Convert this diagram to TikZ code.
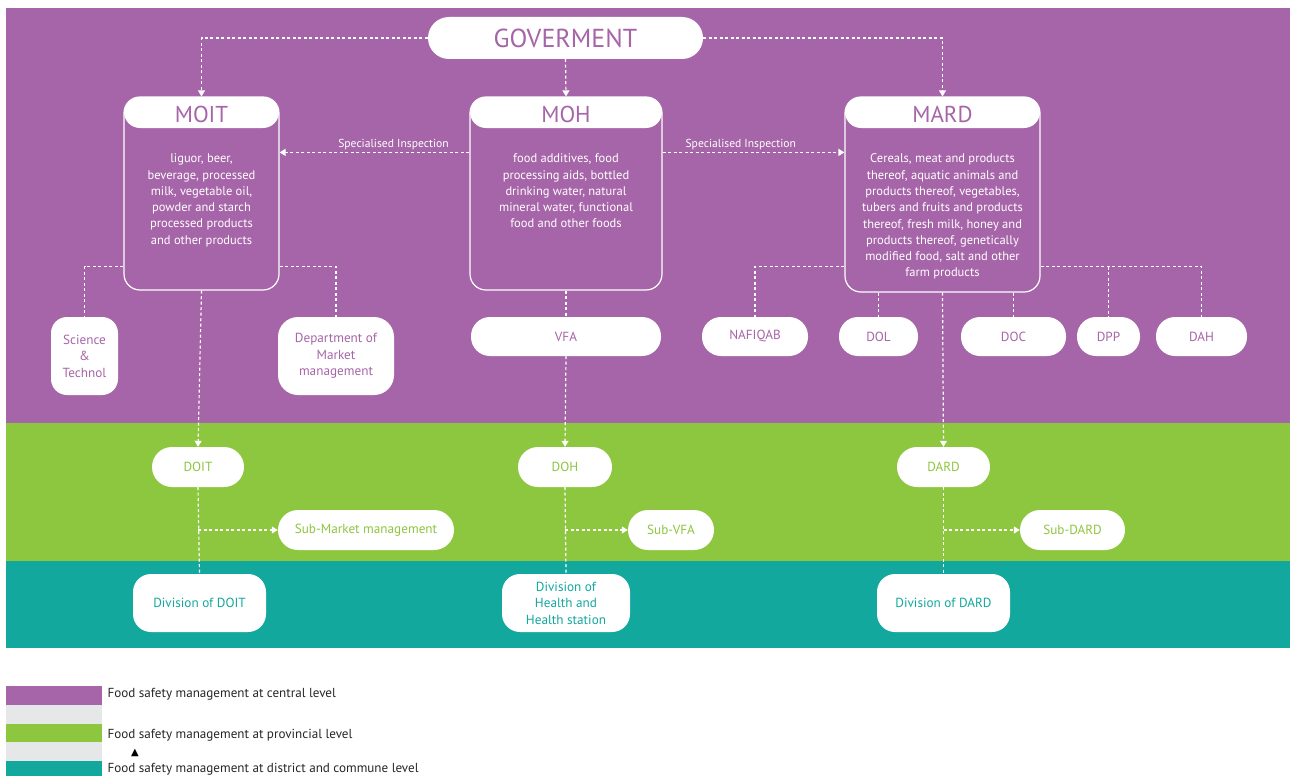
\documentclass[tikz,border=0pt]{standalone}
\usepackage{fontspec}
\setmainfont{PT Sans}
\newfontfamily\symfont{DejaVu Sans}
\usepackage{tikz}
\usetikzlibrary{arrows.meta}

\definecolor{mpurple}{RGB}{166,101,168}
\definecolor{mgreen}{RGB}{141,198,63}
\definecolor{mteal}{RGB}{19,168,158}
\definecolor{lgray}{RGB}{230,231,232}

\tikzset{
  link/.style={draw=white, line width=1.2pt, dash pattern=on 3pt off 2.5pt},
  arr/.style={link, -{Triangle[length=6pt,width=7pt]}},
  pill/.style={fill=white, rounded corners=19pt, minimum height=39pt, inner sep=2pt,
    align=center, font=\fontsize{13.2}{16.5}\selectfont},
  catbox/.style={draw=white, line width=1.2pt, rounded corners=16pt, minimum height=193pt,
    path picture={\fill[white] (path picture bounding box.north west) rectangle
      ([yshift=-31pt]path picture bounding box.north east);}},
  cattitle/.style={text=mpurple, font=\fontsize{23}{23}\selectfont},
  cattext/.style={text=white, anchor=north, align=center, font=\fontsize{12.5}{16.3}\selectfont},
  insp/.style={text=white, font=\fontsize{11.6}{12}\selectfont},
  legend/.style={anchor=west, text=black!85, font=\fontsize{13.1}{13}\selectfont}
}

\begin{document}
\begin{tikzpicture}[x=1pt,y=-1pt]
  \useasboundingbox (0,0) rectangle (1290,776);

  % levels
  \fill[mpurple] (6,8) rectangle (1290,423);
  \fill[mgreen] (6,423) rectangle (1290,561);
  \fill[mteal] (6,561) rectangle (1290,648);

  % central level
  \node[pill, minimum width=275pt, minimum height=42pt, rounded corners=21pt, text=mpurple,
    font=\fontsize{26}{26}\selectfont] (gov) at (565.5,38) {GOVERMENT};

  \node[catbox, minimum width=155pt] (moit) at (201.5,193.5) {};
  \node[catbox, minimum width=192pt] (moh) at (566,193.5) {};
  \node[catbox, minimum width=195pt, minimum height=195pt] (mard) at (942.5,194.5) {};

  \node[cattitle] (moitt) at ([yshift=-18pt]moit.north) {MOIT};
  \node[cattitle] (moht) at ([yshift=-18pt]moh.north) {MOH};
  \node[cattitle] (mardt) at ([yshift=-18pt]mard.north) {MARD};

  \node[cattext] (moitx) at ([yshift=-54pt]moit.north) {liguor, beer,\\beverage, processed\\milk, vegetable oil,\\powder and starch\\processed products\\and other products};
  \node[cattext] (mohx) at ([yshift=-54pt]moh.north) {food additives, food\\processing aids, bottled\\drinking water, natural\\mineral water, functional\\food and other foods};
  \node[cattext] (mardx) at ([yshift=-54pt]mard.north) {Cereals, meat and products\\thereof, aquatic animals and\\products thereof, vegetables,\\tubers and fruits and products\\thereof, fresh milk, honey and\\products thereof, genetically\\modified food, salt and other\\farm products};

  \node[pill, text=mpurple, minimum width=67pt, minimum height=78pt, rounded corners=16pt] (sci) at (84.5,356) {Science\\\&\\Technol};
  \node[pill, text=mpurple, minimum width=116pt, minimum height=78pt, rounded corners=20pt] (dmm) at (336,356) {Department of\\Market\\management};
  \node[pill, text=mpurple, minimum width=190pt] (vfa) at (566,336.5) {VFA};
  \node[pill, text=mpurple, minimum width=106pt] (nafiqab) at (755,336.5) {NAFIQAB};
  \node[pill, text=mpurple, minimum width=79pt] (dol) at (878.5,336.5) {DOL};
  \node[pill, text=mpurple, minimum width=105pt] (doc) at (1013.5,336.5) {DOC};
  \node[pill, text=mpurple, minimum width=63pt] (dpp) at (1108.5,336.5) {DPP};
  \node[pill, text=mpurple, minimum width=91pt] (dah) at (1201.5,336.5) {DAH};

  % provincial level
  \node[pill, text=mgreen, minimum width=92pt, minimum height=40pt, rounded corners=20pt] (doit) at (198,467) {DOIT};
  \node[pill, text=mgreen, minimum width=94pt, minimum height=40pt, rounded corners=20pt] (doh) at (565,467) {DOH};
  \node[pill, text=mgreen, minimum width=93pt, minimum height=40pt, rounded corners=20pt] (dard) at (943.5,467) {DARD};
  \node[pill, text=mgreen, minimum width=176pt, minimum height=40pt, rounded corners=20pt] (submm) at (366,530) {Sub-Market management};
  \node[pill, text=mgreen, minimum width=86pt, minimum height=40pt, rounded corners=20pt] (subvfa) at (671,530) {Sub-VFA};
  \node[pill, text=mgreen, minimum width=105pt, minimum height=40pt, rounded corners=20pt] (subdard) at (1072.5,530) {Sub-DARD};

  % district and commune level
  \node[pill, text=mteal, minimum width=133pt, minimum height=58pt, rounded corners=18pt] (divdoit) at (199.5,603) {Division of DOIT};
  \node[pill, text=mteal, minimum width=128pt, minimum height=58pt, rounded corners=18pt] (divhealth) at (566,603) {Division of\\Health and\\Health station};
  \node[pill, text=mteal, minimum width=133pt, minimum height=58pt, rounded corners=18pt] (divdard) at (943.5,603) {Division of DARD};

  % connectors
  \draw[arr] (gov.west) -| (moit.north);
  \draw[arr] (gov.south) -- (moh.north);
  \draw[arr] (gov.east) -| (mard.north);

  \draw[arr] ([yshift=-56pt]moh.north west) -- ([yshift=-56pt]moit.north east)
    node[insp, pos=0.4, above, yshift=-1pt] {Specialised Inspection};
  \draw[arr] ([yshift=-56pt]moh.north east) -- ([yshift=-56pt]mard.north west)
    node[insp, pos=0.43, above, yshift=-1pt] {Specialised Inspection};

  \draw[link] ([yshift=24pt]moit.south west) -| (sci.north);
  \draw[link] ([yshift=24pt]moit.south east) -| (dmm.north);
  \draw[link] (moh.south) -- (vfa.north);

  \coordinate (mardl) at ([yshift=26pt]mard.south west);
  \coordinate (mardr) at ([yshift=26pt]mard.south east);
  \draw[link] (mardl) -| (nafiqab.north);
  \draw[link] (mardr) -| (dah.north);
  \draw[link] (dpp.north |- mardr) -- (dpp.north);
  \draw[link] (dol.north |- mard.south) -- (dol.north);
  \draw[link] (doc.north |- mard.south) -- (doc.north);

  \draw[arr] (moit.south) -- (doit.north);
  \draw[arr] (vfa.south) -- (doh.north);
  \draw[arr] (mard.south) -- (dard.north);

  \draw[link] (doit.south) -- (divdoit.north);
  \draw[link] (doh.south) -- (divhealth.north);
  \draw[link] (dard.south) -- (divdard.north);
  \draw[arr] (doit.south |- submm.west) -- (submm.west);
  \draw[arr] (doh.south |- subvfa.west) -- (subvfa.west);
  \draw[arr] (dard.south |- subdard.west) -- (subdard.west);

  % legend
  \fill[mpurple] (6,686) rectangle (102,705);
  \fill[lgray] (6,705) rectangle (102,724);
  \fill[mgreen] (6,724) rectangle (102,742);
  \fill[lgray] (6,742) rectangle (102,761);
  \fill[mteal] (6,761) rectangle (102,776);
  \node[legend] (lcentral) at (104,694) {Food safety management at central level};
  \node[legend] (lprov) at (104,735) {Food safety management at provincial level};
  \node[legend] (ldist) at (104,769) {Food safety management at district and commune level};
  \node[text=black, font=\symfont\fontsize{10}{10}\selectfont] (lmark) at (135,753) {▲};
\end{tikzpicture}
\end{document}
